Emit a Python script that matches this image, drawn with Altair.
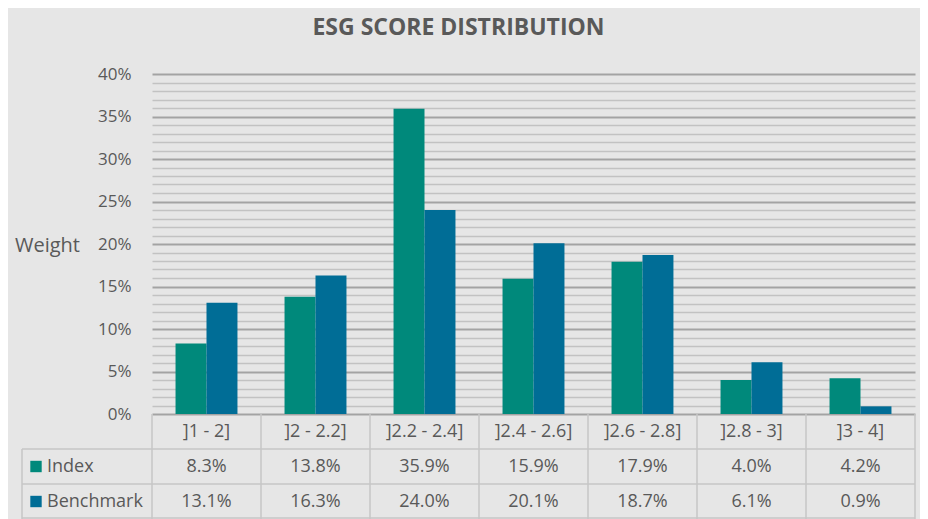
import altair as alt
import pandas as pd

# ---------------- data ----------------
categories = ["]1 - 2]", "]2 - 2.2]", "]2.2 - 2.4]", "]2.4 - 2.6]", "]2.6 - 2.8]", "]2.8 - 3]", "]3 - 4]"]
index_weights = [8.3, 13.8, 35.9, 15.9, 17.9, 4.0, 4.2]
benchmark_weights = [13.1, 16.3, 24.0, 20.1, 18.7, 6.1, 0.9]
series_names = ["Index", "Benchmark"]
series_colors = ["#00897B", "#006D96"]
y_tick_values = [i / 100 for i in range(0, 41)]

# ---------------- layout constants ----------------
W = 763
PLOT_H = 340
ROW_H = 35
H = PLOT_H + 3 * ROW_H
LEFT_COL = -130
TEXT = "#595959"
LINE = "#c6c6c6"
FONT = "Open Sans"

series_values = {"Index": index_weights, "Benchmark": benchmark_weights}

bars_df = pd.DataFrame(
    [{"cat": c, "series": s, "value": v / 100}
     for s in series_names for c, v in zip(categories, series_values[s])]
)

table_rows = [{"cat": c, "row": "header", "label": c} for c in categories]
for s in series_names:
    for c, v in zip(categories, series_values[s]):
        table_rows.append({"cat": c, "row": s, "label": f"{v:.1f}%"})
table_df = pd.DataFrame(table_rows)

series_df = pd.DataFrame({"row": series_names, "series": series_names})
cats_df = pd.DataFrame({"cat": categories})
last_cat_df = pd.DataFrame({"cat": categories[-1:]})

row_order = ["header"] + series_names

x_scale = alt.Scale(domain=categories, paddingInner=0, paddingOuter=0)
y_scale = alt.Scale(domain=[0, 0.40], range=[PLOT_H, 0], nice=False)
row_scale = alt.Scale(domain=row_order, range=[PLOT_H, H], paddingInner=0, paddingOuter=0)
color_scale = alt.Scale(domain=series_names, range=series_colors)

major = "round(datum.value*100) % 5 === 0"
y_axis = alt.Axis(
    values=y_tick_values,
    labelExpr=f"{major} ? format(datum.value, '.0%') : ''",
    labelFontSize=17,
    labelColor=TEXT,
    labelFont=FONT,
    labelPadding=21,
    ticks=False,
    tickSize=0,
    domain=False,
    grid=True,
    gridColor={"condition": {"test": major, "value": "#a3a3a3"}, "value": "#c2c2c2"},
    gridWidth={"condition": {"test": major, "value": 2}, "value": 1.5},
    title="Weight",
    titleAngle=0,
    titleFontSize=20,
    titleFontWeight="normal",
    titleColor=TEXT,
    titleFont=FONT,
    titleX=-105,
    titleY=171,
    titleAlign="center",
    titleBaseline="middle",
)

bars = alt.Chart(bars_df).mark_bar().encode(
    x=alt.X("cat:N", scale=x_scale, axis=None, sort=categories),
    xOffset=alt.XOffset("series:N", scale=alt.Scale(domain=series_names, paddingInner=0, paddingOuter=0.76),
                        sort=series_names),
    y=alt.Y("value:Q", scale=y_scale, axis=y_axis),
    color=alt.Color("series:N", scale=color_scale, legend=None),
)

# ---- data table under the chart ----
table_text = alt.Chart(table_df).mark_text(fontSize=18, color=TEXT, font=FONT).encode(
    x=alt.X("cat:N", scale=x_scale, axis=None),
    y=alt.Y("row:N", scale=row_scale, axis=None),
    text="label:N",
)

row_labels = alt.Chart(series_df).mark_text(fontSize=18, color=TEXT, font=FONT, align="left").encode(
    x=alt.value(LEFT_COL + 25),
    y=alt.Y("row:N", scale=row_scale, axis=None),
    text="row:N",
)

row_swatches = alt.Chart(series_df).mark_square(size=130, opacity=1, shape="square").encode(
    x=alt.value(LEFT_COL + 14),
    y=alt.Y("row:N", scale=row_scale, axis=None),
    color=alt.Color("series:N", scale=color_scale, legend=None),
)

v_lines = alt.Chart(cats_df).mark_rule(color=LINE, strokeWidth=1.5).encode(
    x=alt.X("cat:N", scale=x_scale, bandPosition=0, axis=None),
    y=alt.value(PLOT_H),
    y2=alt.value(H),
)

v_last = alt.Chart(last_cat_df).mark_rule(color=LINE, strokeWidth=1.5).encode(
    x=alt.X("cat:N", scale=x_scale, bandPosition=1, axis=None),
    y=alt.value(PLOT_H),
    y2=alt.value(H),
)

v_left = alt.Chart(series_df.head(1)).mark_rule(color=LINE, strokeWidth=1.5).encode(
    x=alt.value(LEFT_COL),
    y=alt.Y("row:N", scale=row_scale, bandPosition=0, axis=None),
    y2=alt.value(H),
)

h_lines = alt.Chart(series_df).mark_rule(color=LINE, strokeWidth=1.5).encode(
    x=alt.value(LEFT_COL),
    x2=alt.value(W),
    y=alt.Y("row:N", scale=row_scale, bandPosition=0, axis=None),
)

h_bottom = alt.Chart(series_df.head(1)).mark_rule(color=LINE, strokeWidth=1.5).encode(
    x=alt.value(LEFT_COL),
    x2=alt.value(W),
    y=alt.value(H - 1),
)

chart = (
    alt.layer(bars, v_lines, v_last, v_left, h_lines, h_bottom, table_text, row_labels, row_swatches)
    .resolve_scale(y="independent")
    .properties(
        width=W,
        height=H,
        autosize=alt.AutoSizeParams(type="none"),
        padding={"left": 144, "top": 66, "right": 5, "bottom": 0},
        title=alt.TitleParams(
            "ESG SCORE DISTRIBUTION",
            fontSize=23,
            font=FONT,
            fontWeight="bold",
            color=TEXT,
            anchor="middle",
            frame="group",
            dx=-75,
            dy=-21,
        ),
    )
    .configure(background="#e6e6e6")
    .configure_view(stroke=None)
)

chart.save("out.html", embed_options={"renderer": "svg", "actions": False})
